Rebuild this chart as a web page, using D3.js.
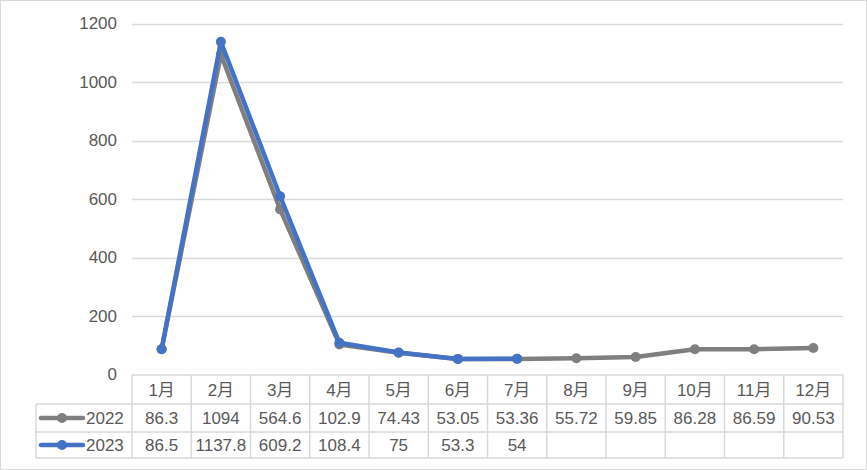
<!DOCTYPE html>
<html><head><meta charset="utf-8">
<script src="https://cdn.jsdelivr.net/npm/d3@7"></script>
<style>body{margin:0;background:#fff;} text{font-family:"Liberation Sans","Noto Sans CJK SC",sans-serif;}</style>
</head><body><svg id="c" width="867" height="470"></svg>
<script>
const categories = ["1月","2月","3月","4月","5月","6月","7月","8月","9月","10月","11月","12月"];
const seriesNames = ["2022","2023"];
const values2022 = [86.3,1094,564.6,102.9,74.43,53.05,53.36,55.72,59.85,86.28,86.59,90.53];
const values2023 = [86.5,1137.8,609.2,108.4,75,53.3,54,null,null,null,null,null];
const labels2022 = ["86.3","1094","564.6","102.9","74.43","53.05","53.36","55.72","59.85","86.28","86.59","90.53"];
const labels2023 = ["86.5","1137.8","609.2","108.4","75","53.3","54","","","","",""];
const yTicks = [0,200,400,600,800,1000,1200];
const colors = ["#7f7f7f","#4472c4"];

(function(){
const FS = 17;
const svg = d3.select("#c");
svg.append("rect").attr("x",0.5).attr("y",0.5).attr("width",866).attr("height",469)
  .attr("fill","#fff").attr("stroke","#d9d9d9");

const pL = 132, pR = 843, pT = 23.5, pB = 374.5;
const x = d3.scaleBand().domain(categories).range([pL,pR]);
const y = d3.scaleLinear().domain([0,1200]).range([pB,pT]);

svg.append("g").selectAll("line").data(yTicks.filter(d=>d>0)).join("line")
  .attr("x1",pL).attr("x2",pR).attr("y1",d=>Math.round(y(d))+0.5).attr("y2",d=>Math.round(y(d))+0.5)
  .attr("stroke","#d9d9d9").attr("stroke-width",1.3);

const ya = svg.append("g").attr("transform",`translate(${pL},0)`)
  .call(d3.axisLeft(y).tickValues(yTicks).tickFormat(d3.format("d")).tickSize(0).tickPadding(15));
ya.select(".domain").remove();
ya.selectAll("text").attr("font-size",FS).attr("fill","#595959")
  .attr("font-family","'Liberation Sans','Noto Sans CJK SC',sans-serif");

const rowH = [[375,404],[404,432],[432,458]];
const tbl = svg.append("g").attr("stroke","#d9d9d9").attr("stroke-width",1.5).attr("fill","none");
tbl.append("line").attr("x1",pL).attr("x2",pR).attr("y1",375).attr("y2",375);
[404,432,458].forEach(yy=>tbl.append("line").attr("x1",36).attr("x2",pR).attr("y1",yy).attr("y2",yy));
categories.forEach(c=>tbl.append("line").attr("x1",x(c)).attr("x2",x(c)).attr("y1",375).attr("y2",458));
tbl.append("line").attr("x1",pR).attr("x2",pR).attr("y1",375).attr("y2",458);
tbl.append("line").attr("x1",36).attr("x2",36).attr("y1",404).attr("y2",458);

const txt = svg.append("g").attr("font-size",FS).attr("fill","#595959").attr("text-anchor","middle");
categories.forEach(c=>txt.append("text").attr("x",x(c)+x.bandwidth()/2).attr("y",396).text(c));
[labels2022,labels2023].forEach((labs,i)=>{
  labs.forEach((l,j)=>txt.append("text").attr("x",x(categories[j])+x.bandwidth()/2)
    .attr("y",(rowH[i+1][0]+rowH[i+1][1])/2+6).text(l));
  const cy = (rowH[i+1][0]+rowH[i+1][1])/2;
  svg.append("line").attr("x1",41).attr("x2",83).attr("y1",cy).attr("y2",cy)
    .attr("stroke",colors[i]).attr("stroke-width",4.5).attr("stroke-linecap","round");
  svg.append("circle").attr("cx",62).attr("cy",cy).attr("r",5).attr("fill",colors[i]);
  svg.append("text").attr("x",86).attr("y",cy+6).attr("font-size",FS).attr("fill","#595959").text(seriesNames[i]);
});

[values2022,values2023].forEach((vals,i)=>{
  const pts = vals.map((v,j)=>({c:categories[j],v})).filter(d=>d.v!=null);
  const line = d3.line().x(d=>x(d.c)+x.bandwidth()/2).y(d=>y(d.v));
  svg.append("path").datum(pts).attr("d",line).attr("fill","none")
    .attr("stroke",colors[i]).attr("stroke-width",4.5).attr("stroke-linejoin","round").attr("stroke-linecap","round");
  svg.append("g").selectAll("circle").data(pts).join("circle")
    .attr("cx",d=>x(d.c)+x.bandwidth()/2).attr("cy",d=>y(d.v)).attr("r",5).attr("fill",colors[i]);
});
})();
</script></body></html>
